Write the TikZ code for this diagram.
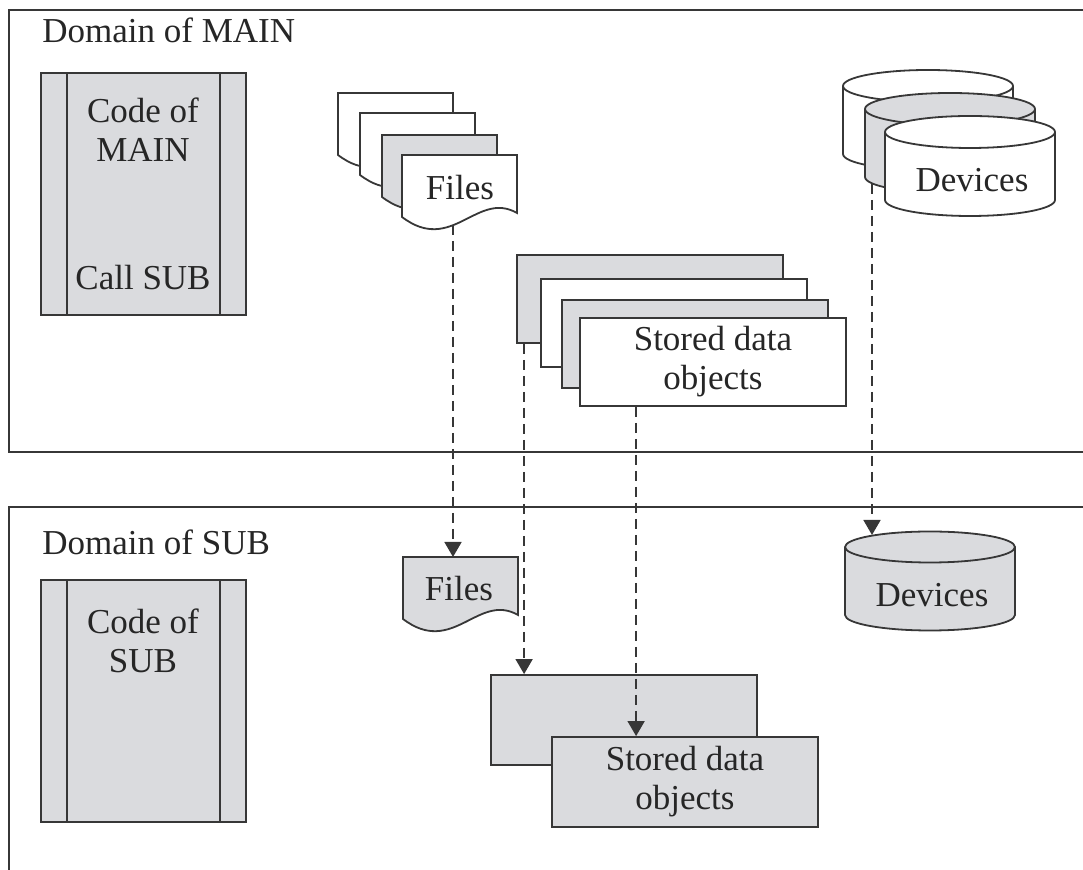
\documentclass[tikz,border=0pt]{standalone}
\usepackage{fontspec}
\setmainfont{Liberation Serif}
\usetikzlibrary{arrows.meta}

\definecolor{paneGray}{RGB}{218,219,222}
\definecolor{inkGray}{RGB}{55,55,55}

\tikzset{
  outline/.style={draw=inkGray, line width=0.9pt},
  flow/.style={draw=inkGray, line width=0.8pt, dash pattern=on 5pt off 3pt,
    -{Triangle[length=7.5pt,width=8.5pt]}},
  lbl/.style={text=black!85, font=\fontsize{17.5}{19.5}\selectfont, align=center, inner sep=0pt},
  datarect/.style={outline, lbl, minimum width=133pt, minimum height=44pt},
}

% sheet with wavy bottom: left, top, fill
\newcommand\docsheet[3]{\draw[outline, fill=#3] (#1,#2) -- (#1+115,#2) -- (#1+115,#2+58)
  .. controls (#1+75,#2+35) and (#1+50,#2+100) .. (#1,#2+62) -- cycle;}
% drum: centre x, top y, height, fill, y radius
\newcommand\drum[5]{\draw[outline, fill=#4] (#1-85,#2) -- (#1-85,#2+#3)
  arc[start angle=180, end angle=360, x radius=42.5pt, y radius=#5] -- (#1+85,#2)
  arc[start angle=0, end angle=180, x radius=42.5pt, y radius=#5] -- cycle;
  \draw[outline] (#1-85,#2) arc[start angle=180, end angle=360, x radius=42.5pt, y radius=#5];}

\begin{document}
\begin{tikzpicture}[x=0.5pt, y=-0.5pt]
  %%%%% START %%%%%
  \useasboundingbox (0,0) rectangle (1083,870);

  \draw[inkGray, line width=1.1pt] (1083,10) -- (9,10) -- (9,452) -- (1083,452);
  \draw[inkGray, line width=1.1pt] (1083,507) -- (9,507) -- (9,870);

  \node[lbl, anchor=base west] (domMain) at (42,43) {Domain of MAIN};
  \node[lbl, anchor=base west] (domSub) at (42,555) {Domain of SUB};

  % code blocks
  \draw[outline, fill=paneGray] (41,73) rectangle (246,315);
  \draw[outline] (67,73) -- (67,315) (220,73) -- (220,315);
  \node[lbl] (codeMain) at (143,130) {Code of\\MAIN};
  \node[lbl, anchor=base] (callSub) at (143,290) {Call SUB};

  \draw[outline, fill=paneGray] (41,580) rectangle (246,822);
  \draw[outline] (67,580) -- (67,822) (220,580) -- (220,822);
  \node[lbl] (codeSub) at (143,641) {Code of\\SUB};

  % files
  \docsheet{338}{93}{white}
  \docsheet{360}{113}{white}
  \docsheet{382}{135}{paneGray}
  \docsheet{402}{155}{white}
  \node[lbl] (filesMain) at (460,188) {Files};
  \coordinate (filesOut) at (453,225);

  \docsheet{403}{557}{paneGray}
  \node[lbl] (filesSub) at (459,589) {Files};
  \coordinate (filesIn) at (453,557);

  % devices
  \drum{928}{86}{68}{white}{8pt}
  \drum{950}{109}{68}{paneGray}{8pt}
  \drum{970}{132}{68}{white}{8pt}
  \node[lbl] (devMain) at (972,180) {Devices};
  \coordinate (devOut) at (872,184);

  \drum{930}{547}{68}{paneGray}{7.75pt}
  \node[lbl] (devSub) at (932,595) {Devices};
  \coordinate (devIn) at (872,535);

  % stored data objects
  \node[datarect, fill=paneGray] (sdTop1) at (650,299) {};
  \node[datarect, fill=white] (sdTop2) at (674,323) {};
  \node[datarect, fill=paneGray] (sdTop3) at (695,344) {};
  \node[datarect, fill=white] (sdTop4) at (713,362) {Stored data\\objects};

  \node[datarect, fill=paneGray, minimum height=45pt] (sdBotA) at (624,720) {};
  \node[datarect, fill=paneGray, minimum height=45pt] (sdBotB) at (685,782) {Stored data\\objects};

  \coordinate (sdOut1) at ([xshift=4pt]sdTop1.south west);
  \coordinate (sdOut2) at ([xshift=28.5pt]sdTop4.south west);

  % connectors
  \draw[flow] (filesOut) -- (filesIn);
  \draw[flow] (sdOut1) -- (sdOut1 |- sdBotA.north);
  \draw[flow] (sdOut2) -- (sdOut2 |- sdBotB.north);
  \draw[flow] (devOut) -- (devIn);
  %%%%% END %%%%%
\end{tikzpicture}
\end{document}
